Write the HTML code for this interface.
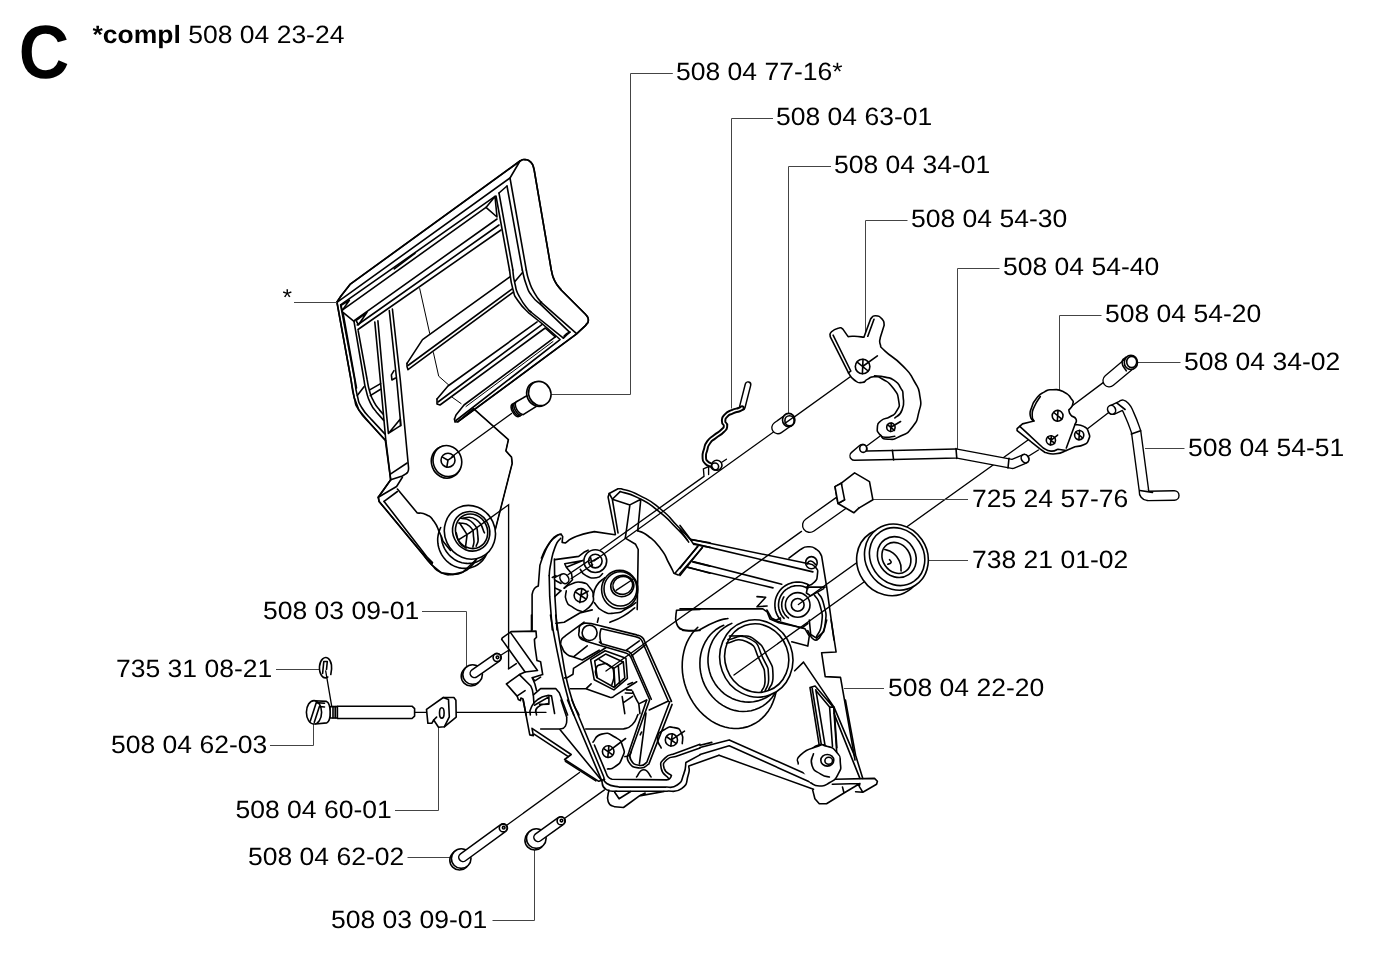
<!DOCTYPE html>
<html><head><meta charset="utf-8">
<style>
html,body{margin:0;padding:0;background:#fff;}
body{width:1400px;height:964px;overflow:hidden;font-family:"Liberation Sans",sans-serif;}
svg{display:block;position:absolute;left:0;top:0;}
text{font-family:"Liberation Sans",sans-serif;fill:#000;text-rendering:geometricPrecision;}
.t{font-size:25px;}
.ld{fill:none;stroke:#444;stroke-width:1;}
.p{fill:none;stroke:#000;stroke-width:1.6;stroke-linejoin:round;stroke-linecap:round;}
.pf{fill:#fff;stroke:#000;stroke-width:1.6;stroke-linejoin:round;stroke-linecap:round;}
.ax{fill:none;stroke:#000;stroke-width:1.35;stroke-linecap:round;}
.th{fill:none;stroke:#000;stroke-width:1;stroke-linejoin:round;stroke-linecap:round;}
</style></head><body>
<svg width="1400" height="964" viewBox="0 0 1400 964">
<rect width="1400" height="964" fill="#fff"/>
<g opacity="0.999"><text transform="translate(18.7 78.3) scale(0.927 1)" style="font-size:75.5px;font-weight:bold">C</text>
<text transform="translate(92.5 42.5) scale(1.06 1)" class="t"><tspan style="font-weight:bold">*compl</tspan> 508 04 23-24</text></g>
<g class="t" opacity="0.999">
<text transform="translate(676 80.1) scale(1.06 1)">508 04 77-16*</text>
<text transform="translate(776 125.1) scale(1.06 1)">508 04 63-01</text>
<text transform="translate(834 173.1) scale(1.06 1)">508 04 34-01</text>
<text transform="translate(911 227.1) scale(1.06 1)">508 04 54-30</text>
<text transform="translate(1003 274.6) scale(1.06 1)">508 04 54-40</text>
<text transform="translate(1105 322.1) scale(1.06 1)">508 04 54-20</text>
<text transform="translate(1184 369.6) scale(1.06 1)">508 04 34-02</text>
<text transform="translate(1188 455.6) scale(1.06 1)">508 04 54-51</text>
<text transform="translate(972 506.6) scale(1.06 1)">725 24 57-76</text>
<text transform="translate(972 567.6) scale(1.06 1)">738 21 01-02</text>
<text transform="translate(888 695.6) scale(1.06 1)">508 04 22-20</text>
<text transform="translate(263 619.1) scale(1.06 1)">508 03 09-01</text>
<text transform="translate(116 676.6) scale(1.06 1)">735 31 08-21</text>
<text transform="translate(111 753.1) scale(1.06 1)">508 04 62-03</text>
<text transform="translate(235.5 817.6) scale(1.06 1)">508 04 60-01</text>
<text transform="translate(248 865.1) scale(1.06 1)">508 04 62-02</text>
<text transform="translate(331 928.1) scale(1.06 1)">508 03 09-01</text>
<text transform="translate(282.5 305.1) scale(1.06 1)" style="font-size:23px">*</text>
</g>
<g id="cover"><path class="pf" d="M337 302L341 296L350 284.4L520 161C521.7 160.5 521.3 159.1 525 159.6C528.7 160.1 528 159.3 531 162.4C534 165.5 533 166.8 534 169L551.3 270C552.4 273.6 551.3 274.1 554.7 280.8C558.1 287.5 559.2 287.1 561.4 290.2L585.7 314.5C586.6 316.3 588.4 316.3 588.4 319.9C588.4 323.5 586.6 323.5 585.7 325.3L576.3 334.1L458 421.7L473.5 408.6L508.4 439.7L505.9 450.9L511.5 457.1L512.2 463.4L495.3 529.6L476.2 559.5L463 572L453 574.4L441.4 572.8L431.4 564.5L379.1 501.4L378.3 497.3L390.7 479.8L385.3 440.2L369.2 422.5L358.9 410.1L354.2 397.6Z" stroke="none"/>
<path class="p" d="M337 302L341 296L350 284.4L520 161C521.7 160.5 521.3 159.1 525 159.6C528.7 160.1 528 159.3 531 162.4C534 165.5 533 166.8 534 169L551.3 270C552.4 273.6 551.3 274.1 554.7 280.8C558.1 287.5 559.2 287.1 561.4 290.2L585.7 314.5C586.6 316.3 588.4 316.3 588.4 319.9C588.4 323.5 586.6 323.5 585.7 325.3L576.3 334.1L458 421.7"/>
<path class="p" d="M338 301.6L510 178L520 161"/>
<path class="p" d="M340.9 304.7L495 196.4"/>
<path class="p" d="M341.9 310.4L486 207.4"/>
<path class="p" d="M486 207.4L495 196.4L497 217Z"/>
<path class="p" d="M341.1 305.4L349.4 300.2L342.1 310.6Z"/>
<path class="p" d="M394.3 268.9L415 253.3" stroke-width="2.6"/>
<path class="p" d="M354.5 320.3L497 219"/>
<path class="p" d="M357.3 325L499 225"/>
<path class="p" d="M358 329.5L501 230"/>
<path class="p" d="M356 320.5L367 312.3L358.5 324.8Z"/>
<path class="p" d="M510 178L526.3 270"/>
<path class="p" d="M507 186L522.3 270"/>
<path class="p" d="M499 193L512.9 270"/>
<path class="p" d="M496 196L509.5 270"/>
<path class="p" d="M499 193L507 186"/>
<path class="p" d="M526.3 270C527.2 273.6 526.3 273.1 529 280.8C531.7 288.4 530.4 285.7 534.4 292.9C538.5 300.1 538.9 299.2 541.2 302.4L576.3 333.4"/>
<path class="p" d="M522.3 270C523.6 274.9 523.2 276.3 526.3 284.8C529.5 293.4 527.2 289.3 531.7 295.6C536.2 301.9 537.1 301 539.8 303.7L569.5 332.1L563.4 338.1"/>
<path class="p" d="M512.8 270C513.5 274.5 512.6 274.5 514.9 283.5C517.1 292.5 514.9 288 519.6 297C524.3 306 525.9 306 529 310.5L563.4 338.1"/>
<path class="p" d="M509.5 270C510.6 276.3 509.9 278.5 512.8 288.9C515.8 299.2 512.8 292.9 518.2 301C523.6 309.1 525.4 309.1 529 313.2L542.5 324L560.1 339.5"/>
<path class="p" d="M514.9 281.5L522.3 272.7M539.8 303.5L541.5 302.1M529.4 310.7L531.2 312.1M564.1 336.1L570.2 332.1L566.5 333.7Z"/>
<path class="p" d="M407 363.4L422.5 339.6L510.2 276.7"/>
<path class="p" d="M408 365.5L512.2 288.9"/>
<path class="p" d="M407 363.4L407 366.6L408 369.7L512.9 292.3"/>
<path class="p" d="M437 399L448 386L537.1 321.9"/>
<path class="p" d="M438 402L541.9 324.6"/>
<path class="p" d="M437 399L437 404L440 405L545.2 328L555.3 336.8"/>
<path class="p" d="M454.5 419L456 415L464 405L555.3 336.8"/>
<path class="th" d="M466 406.5L553 341.5"/>
<path class="p" d="M456 420.5L559.4 340.2"/>
<path class="p" d="M454.5 419L455 422L458 421.7"/>
<path class="th" d="M419.7 288.6L429.7 333.4M433.4 352.6L438.7 376.2L448.6 384.9M452.4 397.4L461.1 403.6"/>
<path class="th" d="M473.5 408.6L508.4 439.7L505.9 450.9L511.5 457.1L512.2 463.4L495.3 529.6"/>
<path class="p" d="M336.9 302.3L351.1 380C352.1 385.9 351.6 387.6 354.2 397.6C356.8 407.6 353.9 401.8 358.9 410.1C363.9 418.4 365.8 418.4 369.2 422.5L385.3 440.2"/>
<path class="p" d="M340.6 304.9L354.7 380C355.6 385.2 354.9 386.3 357.3 395.6C359.7 404.9 357.3 400.1 362 408C366.7 415.9 368.2 415.6 371.3 419.4L384.8 433.9"/>
<path class="p" d="M343.1 313.1L356.5 388"/>
<path class="p" d="M342.1 311.6L354 321.4"/>
<path class="p" d="M354 321.4L364 380C364.7 383.5 364 382.8 366.1 390.4C368.2 398 366.8 395.5 370.3 402.8C373.8 410.1 374.4 409.1 376.5 412.2L383.7 420.4"/>
<path class="p" d="M358.2 330.8L367.2 380C368 383.8 367.5 384.1 369.7 391.4C371.9 398.7 370.6 395.6 373.9 401.8C377.2 408 377.7 407.3 379.6 410.1L383.2 414.2"/>
<path class="p" d="M357.3 395.6L364 386.7M369.7 389.9L380.6 383.6M370.3 395.6L380.6 389.3"/>
<path class="p" d="M374.8 322L380.3 380L385.8 440.2L390.7 479.8"/>
<path class="p" d="M377.9 320.9L383.2 380L388.4 433.4L400.3 418.9L400.5 425.6L388.4 433.4"/>
<path class="p" d="M389.3 310.6L396.7 380L400.9 425.6"/>
<path class="p" d="M392.4 309L400.3 380L408.6 468.2C408.4 469.3 408.7 469.8 408 471.5C407.3 473.2 407.1 472.7 406.6 473.3"/>
<path class="p" d="M394 370.7L391.4 374.9L391.9 380L395.5 378"/>
<path class="p" d="M390 474.4L407.1 463"/>
<path class="p" d="M390.7 479.8L378.3 497.3L379.1 501.4L423.1 554.5C425.9 557.8 425.3 558.4 431.4 564.5C437.5 570.6 434.2 569.5 441.4 572.8C448.6 576.1 445.8 574.7 453 574.4C460.2 574.1 456.9 574.8 463 572C469.1 569.2 466.8 570.3 471.2 566.1C475.6 561.9 474.5 561.7 476.2 559.5"/>
<path class="p" d="M390.7 479.8L402.4 476L406.6 473.3"/>
<path class="p" d="M378.3 497.3L396.6 486.5M384.1 501.4L397.4 491.5M402.4 477.3L396.6 486.5"/>
<path class="p" d="M397.4 489L417.3 513C420.3 513.6 420.9 511.9 426.4 514.7C431.9 517.5 429.5 515.2 433.9 521.3C438.3 527.4 436.7 526.3 439.7 532.9C442.7 539.5 441.9 538.4 443 541.2L450.5 550.4"/>
<path class="p" d="M384.1 501.4L432.2 563.7M423.1 553L432.5 562.5"/>
<path class="p" d="M488.6 547L488.2 549.3L487.6 551.5L486.8 553.6L485.8 555.7L484.7 557.6L483.4 559.4L481.9 561.1L480.3 562.6L478.6 564L476.7 565.2L474.8 566.2L472.7 567.1L470.6 567.7L468.5 568.2L466.3 568.4L464 568.4L461.8 568.3L459.6 567.9L457.4 567.3L455.2 566.6L453.2 565.6L451.1 564.5L449.2 563.1L447.4 561.7L445.7 560L444.2 558.3L442.8 556.4L441.5 554.3L440.4 552.2L439.5 550L438.8 547.8L438.2 545.5L437.9 543.2L437.7 540.8L437.7 538.5L438 536.2L438.4 533.9L439 531.7L439.8 529.5L440.7 527.5"/>
<path class="p" d="M485 556.2L483.9 557.3L482.8 558.2L481.7 559.1L480.4 560L479.2 560.7L477.9 561.3L476.5 561.9L475.1 562.4L473.7 562.8L472.3 563.1L470.8 563.3L469.3 563.4L467.9 563.5L466.4 563.4L464.9 563.3L463.4 563L461.9 562.7L460.5 562.3L459 561.7L457.6 561.2L456.3 560.5L454.9 559.7L453.6 558.9L452.4 557.9L451.2 557L450 555.9L448.9 554.8L447.9 553.6L446.9 552.3L446 551L445.2 549.7L444.4 548.3L443.8 546.9L443.2 545.4L442.7 543.9L442.2 542.4L441.9 540.8L441.6 539.3L441.4 537.7L441.3 536.2"/>
<ellipse class="pf" cx="469.9" cy="532.3" rx="25.2" ry="27.2" transform="rotate(-25 469.9 532.3)"/>
<ellipse class="pf" cx="471.2" cy="531.3" rx="18.3" ry="20.1" transform="rotate(-25 471.2 531.3)"/>
<ellipse class="pf" cx="471.6" cy="531.3" rx="15.8" ry="17.6" transform="rotate(-25 471.6 531.3)"/>
<path class="p" d="M456.3 532.9C457.4 536.3 456.3 537.9 459.6 542.9C462.9 547.9 464.1 546.2 466.3 547.9M460.5 518C464.6 519.7 467.1 516.9 472.9 523C478.7 529.1 476.8 528.5 477.9 536.3C479 544 476.8 542.9 476.2 546.2M458.8 523C462.4 524.1 464.6 521.3 469.6 526.3C474.6 531.3 472.6 531 473.7 537.9C474.8 544.8 473.2 544 472.9 547.1M462.9 518C467.4 518.6 469 514.7 476.2 519.7C483.4 524.6 481.8 528.5 484.5 532.9" stroke-width="1.2"/>
<path class="p" d="M458.8 539.6L469.6 532.9M459.6 523L467.1 534.6L465.4 547.9" stroke-width="1.1"/>
<ellipse class="pf" cx="446.2" cy="462.1" rx="14.7" ry="16.2" transform="rotate(-20 446.2 462.1)"/>
<ellipse class="pf" cx="447.4" cy="461.1" rx="14.2" ry="15.7" transform="rotate(-20 447.4 461.1)"/>
<ellipse class="pf" cx="448" cy="460.2" rx="7" ry="7"/>
<path class="p" d="M448 460.2L442.4 457.1M448 460.2L446.8 467.1M448 460.2L454.2 455.9" stroke-width="1.1"/></g>
<g id="crank"><path class="p" d="M615.4 534.4L608.1 497.1L609.2 493.5L618 488.8L621.1 488.8C627.3 491.1 626.6 488.8 639.8 495.6C652.9 502.3 647.7 498.7 660.5 509C673.3 519.4 668.1 516.5 678.2 526.7C688.2 536.9 686.5 535.3 690.6 539.6"/>
<path class="p" d="M620.1 491.6C626.3 493.8 626 491.7 638.7 498.1C651.5 504.6 646 501.3 658.5 511.1C670.9 521 666.4 518 676.1 527.7C685.8 537.4 683.7 536 687.5 540.2"/>
<path class="p" d="M612.3 499.2L618 532.9M609.2 493.5L612.3 499.2L620.1 491.6M612.3 499.2L629.9 504.9L640.8 499.2M629.9 504.9L625.3 538.1M640.8 499.2L637.7 530.8"/>
<path class="p" d="M625.3 538.1L635.6 544.3L638.2 549.5L637.2 609.6"/>
<path class="p" d="M637.7 530.8C641.2 532.5 640.5 530.1 648.1 536C655.7 541.9 653.6 539.5 660.5 548.5C667.4 557.4 664.3 554.7 668.8 563C673.3 571.3 672.3 569.9 674 573.3L678.2 574.9"/>
<path class="p" d="M675 573.3L697.9 546.4M679.2 574.6L702.5 547.4"/>
<path class="p" d="M691.1 539.6L710 542.7M693.7 544.3L710 547.4M692.7 561.9L710 566.1M687.5 567.1L710 573.3M690.6 539.6L692.2 542.2L693.7 544.3"/>
<path class="ax" stroke-width="1.4" d="M598 551.8L704 476.3L703.4 468.9L708.6 466.6L708.6 474.5"/>
<path class="p" d="M532.1 630L532.1 594.3C532.8 592.6 532.1 591.9 534.1 589.1C536.2 586.3 536.9 587 538.3 586L539.9 565.3C541.4 561.1 540.9 560.8 544.5 552.8C548.1 544.9 546.8 547.1 550.7 541.4C554.7 535.7 553 538.1 556.4 535.7C559.9 533.3 559.6 534.7 561.1 534.1L562.7 536.7L562.1 542.4L565.3 543C569.1 540.7 567 540 576.7 536.2C586.3 532.4 588.4 533.1 594.3 531.6L615 534.7"/>
<path class="p" d="M541.4 558C543.5 553.9 542.8 552.6 547.6 545.6C552.5 538.5 551.4 540.5 555.9 536.7C560.4 533 559.4 535.2 561.1 534.4" stroke-width="2.6"/>
<path class="p" d="M549.2 575.6C549.7 571.8 548.8 573.6 550.7 564.2C552.6 554.9 551.6 556.3 554.9 547.6C558.2 539 558.7 541.4 560.6 538.3"/>
<path class="p" d="M549.2 575.6L549.7 596.4L552.3 630M554.4 559L554.9 596.4L557 630"/>
<path class="p" d="M554.9 559.6L578.7 556.4L583.9 552.3L588.1 550.2M564.7 563.7L582.9 560.6L566.3 567.3ZM566.3 567.3L571.5 573.6L572.5 579.8L564.2 588.1"/>
<path class="p" d="M580.3 569.4C582.2 571.5 580.6 572.9 586 575.6C591.4 578.4 590.8 578.4 596.4 577.7C601.9 577 600.5 574.9 602.6 573.6"/>
<ellipse class="pf" cx="595.3" cy="561.1" rx="11.4" ry="11.4"/>
<ellipse class="pf" cx="595.3" cy="561.1" rx="6.8" ry="6.8"/>
<path class="p" d="M590.7 557.8L592.2 565.8M590.1 562.4L598.4 557.8" stroke-width="1.2"/>
<path class="ax" d="M589.6 560.1L567.9 574.8M592.7 564.7L571 578.7"/>
<path class="pf" d="M561.1 574.4L555.9 576.9C555.4 577.5 554.4 577.4 554.4 578.7C554.4 580.1 555.4 580.1 555.9 580.8L561.1 583.5M552.3 577.5L555.9 575.6"/>
<ellipse class="pf" cx="564.4" cy="578.7" rx="4.1" ry="5.2" transform="rotate(-35 564.4 578.7)"/>
<path class="p" d="M564.2 588.1C566.6 586.7 565.6 585.8 571.5 583.9C577.4 582 575.6 581 581.9 582.4C588.1 583.8 586.3 583.4 590.1 588.1C593.9 592.7 592.9 590.8 593.3 596.4C593.6 601.9 594.6 599.5 591.2 604.7C587.7 609.9 585.7 609.5 582.9 611.9M566.3 590.7C566.3 593.9 563.9 594.8 566.3 600.5C568.7 606.2 568 604 573.6 607.8C579.1 611.6 579.8 610.5 582.9 611.9"/>
<ellipse class="pf" cx="580.8" cy="595.3" rx="6.7" ry="6.7"/>
<path class="p" d="M575.6 592.2L586 599M581.9 588.6L579.8 602.6M580.8 595.3L588.1 591.2" stroke-width="1.1"/>
<path class="p" d="M554.9 588.1L561.1 590.7L554.9 596.4"/>
<path class="p" d="M593.3 596.4C594.3 592.9 592.6 592.2 596.4 586C600.2 579.8 601.9 580.5 604.7 577.7M594.3 602.6C597.1 605.4 595.7 607.4 602.6 610.9C609.5 614.3 607.1 613.7 615 613C623 612.3 619.5 612.3 626.4 608.8C633.4 605.4 632.7 604.7 635.8 602.6"/>
<ellipse class="pf" cx="619.7" cy="589.6" rx="18.1" ry="19.2" stroke-width="2.8"/>
<ellipse class="pf" cx="620.4" cy="588.9" rx="16.4" ry="17.1" stroke-width="1.5"/>
<ellipse class="pf" cx="622.3" cy="586" rx="11.6" ry="10.6" transform="rotate(-15 622.3 586)" stroke-width="2.4"/>
<ellipse class="pf" cx="622.8" cy="585.4" rx="10" ry="8.9" transform="rotate(-15 622.8 585.4)" stroke-width="1.3"/>
<path class="ax" d="M616.1 590.4L633.7 578.7"/>
<path class="p" d="M609.9 622.3C614.3 620.2 615 620.9 623.3 616.1C631.6 611.2 630.9 610.5 634.7 607.8" stroke-width="2.6"/>
<path class="p" d="M555.9 623.3L564.2 622.3L579.8 613L592.2 609.9M598.4 618.1L597.4 622.3"/>
<path class="p" d="M531.5 615L531.5 631.1"/>
<path class="p" d="M501.7 639.4L502.3 637.8L511.1 631.6L536 631.1L536.5 637.3L534.4 639.4L534.9 646.1L537 660.6L540.6 661.7L542.7 674.6L532.3 677.7L534.9 680.9L540.6 677.2"/>
<path class="p" d="M510.6 632.6L537.5 670.5L525.1 672L519.4 674.6L506.4 684L517.3 696.4L518.3 699.5L520.4 700.6L520.9 698L523 699L526.1 715"/>
<path class="p" d="M502.1 639.9L525.1 672M508.5 668.9L516.3 663.7"/>
<path class="p" d="M519.4 674.6L530.8 686L532.3 689.7L533.4 695.9L533.9 703.2M517.3 695.9L525.1 690.7M532.3 677.7L534.9 684L536.5 690.2"/>
<path class="p" d="M533.4 694.9L540.6 688.6L555.7 688.6L559.3 692.8L567.6 715"/>
<path class="p" d="M530.3 715C530.6 712.4 528.5 712.6 531.3 707.3C534.1 702 533 703 538.6 699C544.1 695 544.8 696.6 547.9 695.4L551.5 695.9L554.6 713.5"/>
<path class="p" d="M534.4 705.2L548.9 696.9L548.9 704.2L539.6 704.4M536.5 715C536.8 712.4 533.4 711.2 537.5 707.3C541.7 703.4 545.1 704.5 548.9 703.2"/>
<path class="p" d="M550.5 615C552.7 627.1 551.9 625.4 557.2 651.3C562.6 677.2 561 671.6 566.6 692.8C572.1 714 571.4 707.6 573.8 715"/>
<path class="p" d="M555.7 615C557.6 627.1 556.7 625.7 561.4 651.3C566 676.9 563.8 670.5 569.7 691.7C575.6 713 575.9 707.2 579 715"/>
<path class="p" d="M579.2 630.7C579.5 629 578.1 628.1 580.2 625.6C582.3 623 583.7 623.8 585.4 623L591.1 623.5L636.7 634.9C638.5 635.6 639.2 634.8 641.9 637.2C644.7 639.6 644 640.5 645 642.1L671.5 701.3"/>
<path class="p" d="M601.5 628.7L635.7 636.8C637.3 637.4 637.9 636.7 640.4 638.8C642.8 641 642.1 641.7 643 643.2L668.4 701.3"/>
<path class="p" d="M599.4 642.1L601.5 643.7L625.3 650.4C627.1 651.3 627.8 650.3 630.5 653C633.3 655.8 632.6 656.8 633.6 658.7L651.3 699.2"/>
<path class="p" d="M580.7 637.2L587 641.6L599.4 645.3L624.3 652.5C625.9 653.3 626.5 652.7 629 654.8C631.4 656.9 630.7 657.4 631.6 658.7L649.4 699.2"/>
<path class="p" d="M601 629C600.6 631.3 599.8 631.1 599.9 635.9C600 640.7 600.8 640.9 601.3 643.4M626.4 650.2L639.3 640.9M631.6 655.8L645.2 645.1"/>
<ellipse class="pf" cx="589.6" cy="632.8" rx="7.5" ry="7.7"/>
<path class="p" d="M579.2 630.7C579.4 633 577.3 633.9 579.7 637.5C582.1 641 584.2 640.1 586.4 641.4"/>
<path class="p" d="M584.1 622.2L565.2 635.9C563.8 637.7 562 637.1 561 641.1C560.1 645.1 560.4 643.5 562.3 647.9C564.2 652.2 563 651.1 566.7 654.1C570.5 657.1 571.2 655.9 573.5 656.9L587.2 645.8M573.5 656.9L582.3 660L599.2 650.2"/>
<path class="p" d="M573.5 668.3L606.1 647.5M573.5 668.3L573 674.3L567.3 677.6M564.7 677.9L567.3 677.6"/>
<path class="p" d="M590.6 659.6L605.1 650.7L625.9 658.2L627.4 678.4L613.9 689.9L594.2 679.7Z"/>
<path class="p" d="M594.7 661L605.6 654.1L623.3 661.9L624.8 677.9L613.9 687.3L597.3 677.9Z"/>
<path class="p" d="M599.2 659.6L613.9 668.3L623.3 661.9M613.9 668.3L615 686.7M618.3 665.5L619.6 683.1"/>
<path class="p" d="M596.8 677.4C596.5 674.8 594.2 673.9 595.8 669.6C597.3 665.3 596.8 665.7 601.5 664.4C606.1 663.2 605.6 662.7 609.8 666C613.9 669.3 613.2 668.1 613.9 674.3C614.6 680.5 612.5 681.2 611.9 684.7"/>
<path class="p" d="M570.4 688.8L585.9 688.8L591.1 683.8M585.9 688.8L609.8 697.3C610.6 697.3 610.8 697.8 612.4 697.3C613.9 696.8 613.8 696.3 614.4 695.9L636.7 681.8"/>
<path class="p" d="M627.9 684.5L632.6 682.6" stroke-width="2.4"/>
<path class="p" d="M622.2 696.6L624.8 713.7M626.4 689.9L631.6 690.1M625.3 693L632.1 693.2M623.8 702.3L632.6 696.3M632.6 691.4C633.6 693.7 633.6 694 635.7 698.1C637.8 702.3 637.8 701.9 638.8 703.9L646.6 700M638.8 703.9L639.9 713.7"/>
<path class="p" d="M649.2 710L667.9 701.3"/>
<path class="p" d="M676.5 610.2L700 609.4M676.5 610.2C676.5 614.5 674.3 616.5 676.5 623.2C678.6 630 680.8 628.1 683 630.5L700 630.5"/>
<path class="p" d="M680 525.4L691.6 540.7M680 529.8L688.7 542.1"/>
<path class="p" d="M691.6 539.5L806.4 563.2C809.3 564.4 811.4 562.7 815.1 566.8C818.7 570.9 817.7 570.2 817.3 575.5C816.8 580.9 816.8 579.4 813.6 582.8C810.5 586.2 809.8 584.7 807.8 585.7"/>
<path class="p" d="M693.8 543.6L812.9 571.9"/>
<path class="p" d="M693.8 561.7L781.7 584.2M688 567.5L773 587.9M701.8 547.9L680 575.5M697.4 546.5L680 568.3"/>
<path class="p" d="M788.9 558.1L800.6 549.4C803 548.5 802.5 546.8 807.8 546.8C813.1 546.8 811.9 546.3 816.5 549.4C821.1 552.4 819.9 553.7 821.6 555.9L826.7 587.1L834 640"/>
<ellipse class="p" cx="811.4" cy="562.7" rx="5.8" ry="6.1"/>
<path class="p" d="M807.1 563.9C808.3 562.9 807.8 560.8 810.7 561C813.6 561.2 814.1 563.4 815.8 564.6"/>
<path class="p" d="M808.4 584.7L807 584L805.5 583.4L804 582.9L802.5 582.5L800.9 582.2L799.3 582.1L797.7 582L796.1 582.1L794.5 582.2L793 582.5L791.4 582.9L789.9 583.4L788.4 584L787 584.7L785.6 585.5L784.3 586.4L783 587.3L781.8 588.4L780.7 589.6L779.7 590.8L778.8 592.1L777.9 593.4L777.2 594.8L776.5 596.3L776 597.8L775.5 599.3L775.2 600.9L775 602.5L774.9 604.1L774.9 605.7L775 607.2L775.2 608.8L775.5 610.4L776 611.9L776.5 613.4L777.2 614.9L777.9 616.3L778.8 617.6L779.7 618.9L780.7 620.2" stroke-width="2"/>
<path class="p" d="M807.9 588.6L806.7 587.9L805.4 587.3L804.1 586.8L802.8 586.3L801.4 586L800 585.8L798.6 585.7L797.2 585.7L795.8 585.7L794.5 585.9L793.1 586.2L791.7 586.6L790.4 587.1L789.2 587.7L787.9 588.3L786.8 589.1L785.6 589.9L784.6 590.8L783.6 591.8L782.7 592.9L781.9 594L781.1 595.2L780.5 596.4L779.9 597.7L779.4 599L779 600.4L778.8 601.8L778.6 603.2L778.5 604.5L778.5 605.9L778.7 607.3L778.9 608.7L779.2 610.1L779.7 611.4L780.2 612.7L780.8 614L781.5 615.2L782.3 616.3L783.2 617.4L784.1 618.4" stroke-width="2"/>
<path class="p" d="M783.9 596.9L783.6 597.4L783.3 597.9L783.1 598.4L782.8 599L782.6 599.5L782.4 600.1L782.3 600.7L782.1 601.3L782 601.8L781.9 602.4L781.8 603L781.8 603.6L781.7 604.2L781.7 604.8L781.7 605.4L781.8 606L781.8 606.6L781.9 607.2L782 607.7L782.1 608.3L782.2 608.9L782.4 609.5L782.6 610L782.8 610.6L783 611.1L783.2 611.7L783.5 612.2L783.8 612.7L784.1 613.2L784.4 613.7L784.7 614.2L785.1 614.7L785.5 615.2L785.9 615.6L786.3 616L786.7 616.5L787.1 616.9L787.6 617.2L788.1 617.6L788.5 618"/>
<ellipse class="pf" cx="797.7" cy="604.9" rx="12.3" ry="12.3"/>
<ellipse class="pf" cx="797.7" cy="604.9" rx="6.4" ry="6.4"/>
<path class="p" d="M780.6 618L776 620.3L771.4 618M766.9 610L771.4 618" stroke-width="2"/>
<path class="p" d="M806.4 587.1L825.2 587.1M807.8 585.7L806.4 593L810.7 595.9L823.8 588.6" stroke-width="1.8"/>
<path class="p" d="M680 608.9L762.8 608.9L767.1 611.8L770.1 619.1L778.8 622.7L802 627.8L807.8 623.5" stroke-width="2.2"/>
<path class="p" d="M757 596.6L765.7 597.3L757 606.8L767.1 606" stroke-width="1.6"/>
<path class="p" d="M818 593C819.9 596.8 821.4 594.4 823.8 604.6C826.2 614.7 826.7 612.3 825.2 623.5C823.8 634.6 821.4 633.1 819.4 638M814.4 595.1C816.3 598.8 817.7 596.6 820.2 606C822.6 615.5 822.8 613.3 821.6 623.5C820.4 633.6 818.2 632.2 816.5 636.5M819.4 638C817.5 638.5 817.5 641.9 813.6 639.4C809.8 637 809.8 633.6 807.8 630.7"/>
<path class="p" d="M776.7 687.8L775.9 692.9L774.6 697.8L772.9 702.4L770.9 706.8L768.4 710.9L765.6 714.6L762.4 717.9L759 720.8L755.2 723.3L751.3 725.3L747.1 726.9L742.8 727.9L738.4 728.5L733.9 728.5L729.3 728L724.8 727L720.2 725.5L715.8 723.5L711.5 721.1L707.4 718.2L703.5 714.9L699.8 711.3L696.4 707.2L693.3 702.9L690.5 698.2L688.1 693.4L686.1 688.3L684.5 683.2L683.3 677.9L682.5 672.6L682.2 667.2L682.3 662L682.8 656.8L683.8 651.8L685.1 647L686.9 642.4L689.1 638.1L691.7 634.1L694.6 630.5L697.8 627.3"/>
<path class="p" d="M780.4 677.9L779.5 682.3L778.2 686.5L776.4 690.5L774.3 694.3L771.9 697.7L769.1 700.9L766 703.7L762.6 706.1L759 708L755.2 709.6L751.2 710.7L747.1 711.3L743 711.5L738.8 711.2L734.6 710.4L730.5 709.2L726.6 707.5L722.7 705.4L719 702.9L715.6 700L712.4 696.8L709.6 693.3L707 689.4L704.8 685.4L703 681.1L701.6 676.7L700.6 672.2L700 667.6L699.9 663L700.1 658.5L700.8 654.1L701.9 649.8L703.5 645.6L705.4 641.7L707.7 638.1L710.3 634.8L713.3 631.8L716.5 629.2L720 627L723.7 625.3"/>
<path class="p" d="M785.8 656.4L786.2 660.9L786.2 665.5L785.6 669.9L784.6 674.3L783.1 678.6L781.2 682.6L778.9 686.3L776.1 689.7L773 692.8L769.5 695.5L765.8 697.8L761.9 699.6L757.7 700.9L753.5 701.8L749.1 702.1L744.7 701.9L740.4 701.3L736.1 700.1L732 698.4L728.1 696.3L724.4 693.8L721 690.8L717.9 687.5L715.2 683.9L712.8 679.9L710.9 675.8L709.5 671.4L708.5 667L708 662.4L708 657.9L708.5 653.4L709.4 649L710.8 644.8L712.7 640.7L715 636.9L717.7 633.5L720.8 630.3L724.2 627.6L727.9 625.3L731.8 623.4"/>
<path class="p" d="M680 628.7C682.9 629.4 682.4 630.4 688.7 630.9C695 631.4 695.5 630.4 698.9 630.2M698.9 630.2C704.7 627.3 706.6 625.3 716.3 621.5C726 617.6 724.1 619.5 727.9 618.5"/>
<ellipse class="pf" cx="756.3" cy="658.5" rx="36.3" ry="38.9" transform="rotate(-20 756.3 658.5)"/>
<ellipse class="pf" cx="756.7" cy="658.1" rx="31.7" ry="34.6" transform="rotate(-20 756.7 658.1)"/>
<path class="p" d="M729.4 636L742.5 635.7C746.8 637.2 747.3 633.5 755.5 640.3C763.8 647.2 761.3 644.7 767.1 656.3C773 667.9 772.5 664.1 773 675.2C773.4 686.3 770.1 684.9 768.6 689.7"/>
<path class="p" d="M727.9 639.6C735.2 639.4 738.1 632.8 749.7 638.9C761.3 644.9 756.5 645.2 762.8 657.8C769.1 670.4 767.9 665.5 768.6 676.6C769.3 687.8 766.2 686.3 765 691.2"/>
<path class="p" d="M726.5 643.2C733.3 642.8 735.9 636.5 746.8 641.8C757.7 647.1 753.1 647.1 759.2 659.2C765.2 671.3 764.2 667.2 765 678.1C765.7 689 762.5 687.3 761.3 691.9"/>
<path class="p" d="M831.1 620L836.1 652L821.6 652.7L825.2 676.6L840.5 677.4L855 760"/>
<path class="p" d="M803.5 662.1L794.7 670.8M803.5 662.1L834 707.1L854.3 755.1M810 687.5L815.1 686.1L834 707.9M810 687.5L819.4 746.4M815.8 689.7L825.2 746.4M812.2 688.3L821.6 746.4"/>
<path class="p" d="M829.6 707.1L834 707.1L836.9 747.8M829.6 707.1L832.5 746.4M816.5 691.2L829.6 707.1"/>
<path class="p" d="M804.9 628.7L809.3 636L807.8 646.1L791.8 641.8M809.3 620L810.7 634.5L816.5 638.2L823.8 631.6L826.7 620M773 620L804.9 628.7"/>
<path class="p" d="M799.1 760L815.1 746.4C817 745.8 817.5 744.9 820.9 744.6C824.3 744.4 823.8 745.3 825.2 745.6L834 750.7L838.3 760"/>
<path class="p" d="M523.2 700L529.8 734.9L533.4 735.6L532 728.3L571.2 754.5L564.6 759.5L598.8 781.3L604.6 779.2"/>
<path class="p" d="M534.1 734.1L568.3 756.6M565.4 761.3L595.9 780.9"/>
<path class="p" d="M594.4 745L606 772.6C606.8 774.1 606.3 774.8 608.2 777C610.1 779.2 610.6 778.4 611.8 779.2L667 779.9C668 779.4 668.5 779.9 669.9 778.4C671.4 777 670.9 776.5 671.4 775.5"/>
<path class="p" d="M571.9 700L603.8 777C604.8 779.2 601.7 780.1 606.8 783.5C611.8 786.9 615 785.9 619.1 787.1L665.6 787.1C669.5 786.4 671.1 789.3 677.2 785C683.2 780.6 680.8 781.6 683.7 774.1C686.6 766.6 685.2 766.3 685.9 762.5L700 754.9"/>
<path class="p" d="M567.5 700L601.7 780.6C603.1 783.5 600.7 785.8 606 789.3C611.4 792.9 613.8 790.6 617.6 791.2L667 791.2C671.9 790.3 674.5 793.8 681.6 788.6C688.6 783.4 685.7 783 688.1 775.5C690.5 768 688.6 769.2 688.8 766.1L719 755.2"/>
<path class="p" d="M559.5 729L601.7 780.6M540.7 729L559.5 729C561.5 728.1 562.9 730 565.4 726.1C567.8 722.3 566.3 720.3 566.8 717.4L561 700"/>
<path class="p" d="M593 742.1C595.9 739.5 594.4 735.8 601.7 734.1C608.9 732.4 607.7 732.9 614.7 737C621.8 741.2 620.3 739.5 622.7 746.5C625.2 753.5 624.7 751.3 622 758.1C619.3 764.9 619.6 763.2 614.7 766.8C609.9 770.4 609.9 768.3 607.5 769"/>
<ellipse class="pf" cx="608.2" cy="751.6" rx="5.8" ry="5.8"/>
<path class="p" d="M603.8 748.7L612.6 754.9M608.9 745.8L607.8 757.4M608.2 751.6L625.6 738.5" stroke-width="1.1"/>
<ellipse class="pf" cx="671.4" cy="739.9" rx="6.1" ry="6.1"/>
<path class="p" d="M667 737L676 743.3M672.3 733.8L670.8 746.2M671.4 739.9L684.5 731.2" stroke-width="1.1"/>
<path class="p" d="M661.2 747.9C660 744.5 656.6 743.8 657.6 737.8C658.6 731.7 658.6 733.2 664.1 729.8C669.7 726.4 668.5 726.4 674.3 727.6C680.1 728.8 678.9 728.1 681.6 733.4C684.2 738.7 682 740.2 682.3 743.6"/>
<path class="p" d="M649.6 700L631.4 750.8C631.2 753.7 628.1 754.7 630.7 759.5C633.4 764.4 634.1 764.4 639.4 765.4C644.8 766.3 644.3 763.4 646.7 762.5L669.9 701.5"/>
<path class="p" d="M646.7 700L629.3 750.8C629 754.5 625.2 756 628.5 761.7C631.9 767.4 632.7 767.2 639.4 768C646.2 768.7 645.7 765.3 648.9 763.9L672.1 704.4"/>
<path class="p" d="M646 713.1L639.4 763.9M641.6 732L640.2 734.9"/>
<path class="p" d="M585.7 729L623.5 729C626.4 727.6 627.3 729.5 632.2 724.7C637 719.8 636 717.9 638 714.5"/>
<path class="p" d="M608.9 790.1C608.7 793.9 606.3 796.1 608.2 801.7C610.1 807.2 612.6 805.1 614.7 806.8L623.5 807.5L639.4 795.9L664.1 791.5M614.7 792.2L619.1 798.8L630.7 791.5M639.4 795.9L645.2 793"/>
<path class="p" d="M671.4 775.5C669 773.1 665.6 773.6 664.1 768.3C662.7 762.9 663.2 763.4 667 759.5C670.9 755.7 672.8 757.6 675.7 756.6L700 747.9M668.5 778.4C666.1 775 662.4 775 661.2 768.3C660 761.5 660.5 762.9 664.9 758.1C669.2 753.3 671.1 755.2 674.3 753.7L700 744.3"/>
<path class="p" d="M636.5 777C638.9 774.6 638.9 769.7 643.8 769.7C648.6 769.7 648.6 774.6 651.1 777"/>
<path class="p" d="M624.9 756.6C626.4 756.2 627.1 757.1 629.3 755.2C631.4 753.3 630.7 752.3 631.4 750.8"/>
<path class="p" d="M700 747.5L729.2 739.9L817.8 779.2L825.1 781.3M700 754.5L729.2 745.8L814.9 784.2M719 755.2L813.5 789.3M700 745.3L711.8 742.4"/>
<path class="pf" d="M798.2 763.9C798.9 761 794.3 760.9 800.4 755.2C806.4 749.5 807.6 749.8 816.4 746.8C825.1 743.8 819.8 744.3 826.5 746.2C833.3 748 832.1 746.9 836.7 752.3C841.3 757.7 839.8 755.2 840.3 762.5C840.8 769.7 841.8 767.3 838.1 774.1C834.5 780.9 835.7 778.8 829.4 782.8C823.1 786.8 825.6 786 819.3 786C813 786 813.5 783.9 810.6 782.8"/>
<path class="p" d="M813.5 753.7C813 757.6 809.6 758.6 812 765.4C814.4 772.1 814.9 770.2 820.7 774.1C826.5 777.9 826.5 776 829.4 777"/>
<ellipse class="pf" cx="827.3" cy="760.3" rx="6.5" ry="5.8"/>
<ellipse class="pf" cx="828.7" cy="760.7" rx="3.8" ry="3.5"/>
<path class="p" d="M835.2 779.2L874.5 778.4L877.4 781.3L876.6 784.2L862.8 792.2L855.6 791.8M832.3 784.2L859.9 783.5L844 793L826.5 803.8L819.3 803.8L814.9 798.8L812.7 790.1M844 793L842.5 787.1M859.9 783.5L859.2 786.4L862.8 792.2"/>
<path class="p" d="M845.4 700L855.6 755.2L862.8 778.4M833.8 713.1L859.9 778.4M833.8 708.7L836.7 752.3"/></g>
<g id="axes"><path class="ax" d="M415 712.3H546"/><path class="ax" d="M325.7 671L331.6 705.5"/><path class="ax" d="M498 657L509 650"/><path class="ax" d="M505 826.5L579.5 772.5"/><path class="ax" d="M563 819.5L604.5 789.9"/><path class="ax" d="M511.5 413.5L452 456.5"/><path class="ax" d="M594 561L868 364"/><path class="ax" d="M798.4 604.5L1028 440"/><path class="ax" d="M1026.8 457.3L1038.4 450"/><path class="ax" d="M1060 415L1104.5 381.6"/><path class="ax" d="M1082 433L1110 411.5"/><path class="ax" d="M879.5 436.5L866 446.5"/><path class="ax" d="M893 425.8L901 421.2"/><path class="ax" d="M801.5 531.4L606 671"/><path class="ax" d="M864 582L734 675"/><path class="ax" d="M469.6 532.9L508.6 504.7V668"/></g>
<g class="ld">
<path d="M672.8 73.5H630.5V394.5H551"/>
<path d="M773 118.5H731.5V408.5"/>
<path d="M831 166.5H788.5V413"/>
<path d="M907.5 220.5H865.5V336"/>
<path d="M999.5 268.5H957.5V449"/>
<path d="M1101.5 315.5H1059.5V390"/>
<path d="M1180.5 362.5H1138"/>
<path d="M1184.5 448.5H1145"/>
<path d="M968 499.5H873"/>
<path d="M968 560.5H928"/>
<path d="M884 688.5H844"/>
<path d="M422 611.5H466.5V666"/>
<path d="M276 669.5H319"/>
<path d="M270 745.5H313.5V724"/>
<path d="M395 810.5H438.5V727"/>
<path d="M407.5 857.5H451"/>
<path d="M492.5 920.5H534.5V849"/>
<path d="M294 302.5H337"/>
</g>

<g id="clip">
<path class="p" stroke-width="2.6" d="M327.8 677C323 680 319 674 319.5 666.5C320 659.5 324.5 655.8 328.2 658.3C331.8 661 332.4 668 330.8 674.5"/>
<path class="p" stroke-width="1.8" d="M323.8 661.5L322.6 673.5M327.3 661.5L326.5 669.5M323.8 661.5L327.3 661.5"/>
</g>
<g id="s6203">
<path class="pf" d="M337.3 706.2H412L414.6 708.6V716.1L412 718.5H337.3Z"/>
<path class="pf" d="M330 706.6H337.3V718H330Z"/>
<path class="p" stroke-width="1" d="M333 706.6V718M335.2 706.6V718"/>
<path class="pf" d="M314.5 700.7L326.5 701.4C331 703 331.6 720 326.8 722.9L315.5 724"/>
<ellipse class="pf" cx="314" cy="712.3" rx="7.6" ry="11.7"/>
<path class="p" stroke-width="1.2" d="M310.3 721L316.3 702.6L324.5 703.3M314.3 722.3L319.4 706.5L324.5 707"/>
</g>
<g id="nut">
<path class="pf" d="M426.5 709.4L443.3 697.5L453.9 697.5L455.9 700.2L456.2 717.1L444.3 726.8L438.5 727.2L433.7 720L431.8 723.3L427.9 723.3Z"/>
<path class="p" d="M443.3 697.5L448.5 699.4L449.3 716.8L444.3 726.8"/>
<path class="p" d="M433.7 720L436.6 717.1"/>
<ellipse class="p" cx="441.8" cy="712.9" rx="2.3" ry="5.2"/>
</g>
<g><circle class="pf" cx="471" cy="676.2" r="9.8"/><circle class="pf" cx="472.6" cy="674.6" r="9.8"/><path d="M474.4 673.3L497 657.6" fill="none" stroke="#000" stroke-width="10" stroke-linecap="round"/><path d="M474.4 673.3L497 657.6" fill="none" stroke="#fff" stroke-width="7" stroke-linecap="round"/><circle class="pf" cx="497" cy="657.6" r="3.9"/><circle class="p" stroke-width="1" cx="497.5" cy="657.3" r="1.3"/></g>
<g><circle class="pf" cx="459.6" cy="860.2" r="9.8"/><circle class="pf" cx="461.2" cy="858.6" r="9.8"/><path d="M463 857.3L503.2 828" fill="none" stroke="#000" stroke-width="10" stroke-linecap="round"/><path d="M463 857.3L503.2 828" fill="none" stroke="#fff" stroke-width="7" stroke-linecap="round"/><circle class="pf" cx="503.2" cy="828" r="3.9"/><circle class="p" stroke-width="1" cx="503.7" cy="827.7" r="1.3"/></g>
<g><circle class="pf" cx="534.7" cy="840.2" r="9.8"/><circle class="pf" cx="536.3" cy="838.6" r="9.8"/><path d="M538.1 837.3L561 820.9" fill="none" stroke="#000" stroke-width="10" stroke-linecap="round"/><path d="M538.1 837.3L561 820.9" fill="none" stroke="#fff" stroke-width="7" stroke-linecap="round"/><circle class="pf" cx="561" cy="820.9" r="3.9"/><circle class="p" stroke-width="1" cx="561.5" cy="820.6" r="1.3"/></g>
<g id="button">
<ellipse class="pf" cx="515.6" cy="410.3" rx="3.4" ry="7" transform="rotate(-29.4 515.6 410.3)" stroke-width="2.4"/>
<ellipse class="pf" cx="516.9" cy="409.6" rx="3.4" ry="7" transform="rotate(-29.4 516.9 409.6)" stroke-width="2"/>
<ellipse class="pf" cx="518.3" cy="408.8" rx="3.4" ry="7" transform="rotate(-29.4 518.3 408.8)" stroke-width="1.8"/>
<ellipse class="pf" cx="519.8" cy="407.9" rx="3.4" ry="7" transform="rotate(-29.4 519.8 407.9)" stroke-width="1.4"/>
<path d="M516.5 402L532.1 392.6L539.6 405.1L523.1 414.5Z" fill="#fff" stroke="none"/>
<path class="p" d="M516.4 401.7L529.6 394.1M523.2 414.7L536.4 406.3"/>
<ellipse class="pf" cx="538.1" cy="394.1" rx="11.2" ry="12.6" transform="rotate(-25 538.1 394.1)" stroke-width="2.6"/>
<ellipse class="pf" cx="539.8" cy="393.5" rx="11" ry="12.3" transform="rotate(-25 539.8 393.5)"/>
</g>
<g id="spring">
<path d="M748 384.7L742.3 407.1" fill="none" stroke="#000" stroke-width="7" stroke-linecap="round" stroke-linejoin="round"/><path d="M748 384.7L742.3 407.1" fill="none" stroke="#fff" stroke-width="4.1" stroke-linecap="round" stroke-linejoin="round"/>
<path d="M742.1 408C741.1 408.5 742.4 408.4 739.2 409.6C736 410.8 736.7 409.8 732.3 411.7C728 413.7 729 412.3 726.1 415.5C723.2 418.6 723.8 417.5 723.6 421.1C723.4 424.6 725.9 422.7 725.5 426C725.1 429.4 725.9 427.5 722.4 431C718.9 434.5 719.5 432.9 714.9 436.6C710.3 440.4 711.8 437.9 708.7 442.2C705.6 446.6 707 444.7 705.6 449.7C704.1 454.7 704.1 453 704.3 457.2C704.5 461.3 704.1 459.6 706.2 462.2C708.3 464.7 709.1 464 710.5 464.9" fill="none" stroke="#000" stroke-width="5.4" stroke-linecap="round" stroke-linejoin="round"/><path d="M742.1 408C741.1 408.5 742.4 408.4 739.2 409.6C736 410.8 736.7 409.8 732.3 411.7C728 413.7 729 412.3 726.1 415.5C723.2 418.6 723.8 417.5 723.6 421.1C723.4 424.6 725.9 422.7 725.5 426C725.1 429.4 725.9 427.5 722.4 431C718.9 434.5 719.5 432.9 714.9 436.6C710.3 440.4 711.8 437.9 708.7 442.2C705.6 446.6 707 444.7 705.6 449.7C704.1 454.7 704.1 453 704.3 457.2C704.5 461.3 704.1 459.6 706.2 462.2C708.3 464.7 709.1 464 710.5 464.9" fill="none" stroke="#fff" stroke-width="1.5" stroke-linecap="round" stroke-linejoin="round"/>
<ellipse class="pf" cx="716.8" cy="465.3" rx="5.2" ry="5" stroke-width="2.2"/>
<ellipse class="p" cx="714.9" cy="466.5" rx="3.7" ry="3.5" stroke-width="1.6"/>
<path class="ax" d="M721.8 462.2L726.4 459.2"/>
</g>
<g id="sl1">
<path d="M788.3 420.3L777.9 427.7" fill="none" stroke="#000" stroke-width="13.4" stroke-linecap="round" stroke-linejoin="round"/><path d="M788.3 420.3L777.9 427.7" fill="none" stroke="#fff" stroke-width="10.8" stroke-linecap="round" stroke-linejoin="round"/>
<ellipse class="pf" cx="788.7" cy="420" rx="6.2" ry="6.6"/>
<ellipse class="pf" cx="789.5" cy="420.7" rx="4.6" ry="5" stroke-width="1.2"/>
<path class="ax" d="M784.9 423.4L794.5 416.5"/>
</g>
<g id="lever">
<path class="pf" d="M830.2 336.6C830.6 335 828.6 334.7 831.5 331.8C834.4 328.9 835.1 328.9 838.9 328C842.6 327 841.4 328.6 842.7 328.9L848.1 336.6C850.2 336.5 849 336.1 854.3 336.3C859.6 336.5 860.7 336.9 863.9 337.2L870.7 318.7C872.3 317.7 871.6 315.6 875.5 315.8C879.4 316 879.4 316.2 882.3 319.3C885.1 322.4 883.5 323.1 884.2 325.1L880.3 337.6C880.3 339.9 878.7 339.9 880.3 344.4C881.9 348.9 877.8 344 885.1 351.1C892.5 358.2 892.9 355.6 902.5 365.6C912.2 375.5 908.3 370.7 914.1 381C919.9 391.3 918.3 386.1 919.9 396.4C921.5 406.7 921.5 401.6 918.9 411.9C916.3 422.1 918.3 419.3 912.2 427.3C906 435.3 908.6 432 900.6 436C892.5 440 894.8 439.6 888 439.2C881.3 438.9 883.9 439 880.3 435C876.8 431 877.1 432.1 877.4 427.3C877.8 422.5 877.1 424.1 881.3 420.5C885.5 417 884.8 419.9 890 416.7C895.1 413.5 893.8 416.4 896.7 410.9C899.6 405.4 899.9 408 898.6 400.3C897.4 392.6 898 394.7 892.9 387.8C887.7 380.8 889.3 383.1 883.2 379.5C877.1 375.8 879.7 376.9 874.5 376.8C869.4 376.6 872 377.1 867.8 379.1C863.6 381 866.5 382.2 862 382.5C857.5 382.9 858.8 383.3 854.3 380C849.8 376.8 850.4 375.3 848.5 372.9L830.2 336.6"/>
<path class="p" d="M833.1 335.1L850.8 371M848.5 372.9L850.8 371"/>
<path class="p" d="M874.5 375.8C878.1 376.2 878.6 375.6 885.1 377.1C891.7 378.7 889.1 376.9 894.2 380.4C899.4 384 897.6 382.4 900.6 387.8C903.5 393.1 902.6 389 903.1 396.4C903.6 403.8 904.9 402.7 902.1 409.9C899.4 417.1 897.2 415.3 894.8 418"/>
<path class="p" d="M867.8 336.3L874 319.3"/>
<path class="p" d="M880.3 435C881.9 435.8 880.3 436.9 885.1 437.3C890 437.7 891.6 436.5 894.8 436.2"/>
<ellipse class="pf" cx="862.6" cy="366.5" rx="7.3" ry="7.3"/>
<path class="p" d="M857.2 362.1L868.2 371M863 359.4L862.4 373.7M862.6 366.5L877.4 355.9" stroke-width="1.1"/>
<ellipse class="pf" cx="890.9" cy="427.3" rx="4.2" ry="4.2"/>
<path class="p" d="M887.5 424.6L894.4 430.4M891.3 423L890.5 431.5M890.9 427.3L900.6 421.5" stroke-width="1.1"/>
</g>
<g id="rod">
<path d="M862.5 449L854.5 455.8L893 455L956.4 453.5L1012.5 464L1024.5 459" fill="none" stroke="#000" stroke-width="10.4" stroke-linecap="round" stroke-linejoin="round"/><path d="M862.5 449L854.5 455.8L893 455L956.4 453.5L1012.5 464L1024.5 459" fill="none" stroke="#fff" stroke-width="7.6" stroke-linecap="round" stroke-linejoin="round"/>
<path class="p" d="M892.4 450.2L893.6 460M956 448.6L956.8 458.4M1009 458.2L1008 468"/>
<ellipse class="pf" cx="863.2" cy="448.5" rx="3.5" ry="3.9"/>
<ellipse class="pf" cx="1025" cy="458.6" rx="3.6" ry="4.4" transform="rotate(-30 1025 458.6)"/>
</g>
<g id="bracket">
<path class="pf" d="M1017.1 428.7L1022.5 423.9L1033.9 421C1032.7 419.3 1031 420.5 1030.3 415.8C1029.6 411.2 1029.7 412.9 1031.8 407.1C1033.9 401.4 1032.3 403.5 1036.4 398.5C1040.5 393.5 1038.7 395 1044.1 392.1C1049.6 389.2 1046.4 389.9 1052.8 389.8C1059.3 389.7 1057.3 388.8 1063.4 391.7C1069.5 394.6 1068.1 394.3 1071.1 398.5C1074.2 402.6 1073.5 400.4 1072.7 404.3C1071.9 408.1 1070.1 408.1 1068.8 410C1069.5 411.6 1068.4 411.8 1070.8 414.9C1073.1 417.9 1074.6 415.9 1076 419.1C1077.4 422.3 1075.3 422.7 1075 424.5C1077.9 425.1 1079.2 423.9 1083.7 426.4C1088.2 429 1086.9 427.7 1088.5 432.2C1090.1 436.7 1090.1 435.8 1088.5 439.9C1086.9 444.1 1088.2 442.5 1083.7 444.8C1079.2 447 1077.9 446 1075 446.7L1066.3 450.5C1062.8 451.6 1062.8 453.2 1055.7 453.8C1048.6 454.5 1048.6 452.9 1045.1 452.5L1040.3 449.2L1017.1 430.7Z"/>
<path class="p" d="M1019.8 426.4L1043.2 448C1045.8 449.1 1045.9 450.7 1050.9 451.1C1055.8 451.5 1055.7 449.8 1058 449.2L1066.3 450.5"/>
<path class="p" d="M1075 424.5L1066.3 448"/>
<path class="p" d="M1033.9 421C1033.3 419 1032 419.8 1032.2 414.9C1032.4 409.9 1031.8 412.3 1034.5 406.2C1037.2 400.1 1038.4 399.8 1040.3 396.5"/>
<ellipse class="pf" cx="1057.6" cy="415.8" rx="5.4" ry="5.4"/>
<path class="p" d="M1053.8 412.5L1061.9 419.1M1058 410.6L1057.3 421" stroke-width="1.1"/>
<ellipse class="pf" cx="1050.9" cy="440.3" rx="4.6" ry="4.6"/>
<path class="p" d="M1047.6 437.2L1054.6 443.4M1051.5 435.7L1050.3 444.9M1050.9 440.3L1057.6 435.1" stroke-width="1.1"/>
<ellipse class="pf" cx="1079.2" cy="435.1" rx="4.6" ry="4.6"/>
<path class="p" d="M1075.8 432.2L1082.7 438M1079.6 430.3L1078.9 439.9" stroke-width="1.1"/>
</g>
<g id="sl2">
<path d="M1130 363.2L1109.3 380.5" fill="none" stroke="#000" stroke-width="14" stroke-linecap="round" stroke-linejoin="round"/><path d="M1130 363.2L1109.3 380.5" fill="none" stroke="#fff" stroke-width="11.4" stroke-linecap="round" stroke-linejoin="round"/>
<ellipse class="pf" cx="1130.9" cy="362.4" rx="6.6" ry="7.1"/>
<path class="p" d="M1125.5 357.4C1124.4 359.2 1121.8 358.3 1122.1 362.8C1122.3 367.3 1124.9 368.2 1126.3 370.9"/>
<ellipse class="pf" cx="1131.7" cy="362" rx="5" ry="5.6" stroke-width="1.2"/>
</g>
<g id="bent">
<path d="M1113 409.7L1120.9 405.8C1122.2 406 1121.7 403 1124.8 406.4C1127.8 409.7 1126.2 407.4 1130 415.8C1133.8 424.2 1134.1 426.4 1136.1 431.6L1143.9 490.1C1144.2 491.5 1143.3 492.4 1144.8 494.3C1146.3 496.2 1147.1 495.3 1148.3 495.9L1174.3 495.5" fill="none" stroke="#000" stroke-width="10.8" stroke-linecap="round" stroke-linejoin="round"/><path d="M1113 409.7L1120.9 405.8C1122.2 406 1121.7 403 1124.8 406.4C1127.8 409.7 1126.2 407.4 1130 415.8C1133.8 424.2 1134.1 426.4 1136.1 431.6L1143.9 490.1C1144.2 491.5 1143.3 492.4 1144.8 494.3C1146.3 496.2 1147.1 495.3 1148.3 495.9L1174.3 495.5" fill="none" stroke="#fff" stroke-width="8" stroke-linecap="round" stroke-linejoin="round"/>
<path class="p" d="M1131.3 434.1L1140.6 430.7M1139.8 490.5L1152.5 492.4M1116.7 402.9L1125.1 409.5"/>
<ellipse class="pf" cx="1111.6" cy="409.8" rx="3.9" ry="4.6" transform="rotate(-25 1111.6 409.8)"/>
</g>
<g id="pin">
<path d="M809.8 525.1L841.3 502.8" fill="none" stroke="#000" stroke-width="15.8" stroke-linecap="round" stroke-linejoin="round"/><path d="M809.8 525.1L841.3 502.8" fill="none" stroke="#fff" stroke-width="13.1" stroke-linecap="round" stroke-linejoin="round"/>
<path class="pf" d="M841.3 483.2L854.6 472.9L869.5 481.6L872.9 499.8L858.8 508.1L844.6 499.8Z"/>
<path class="pf" d="M841.3 483.2L835 486.6L838 503.5L853.8 512.8L858.8 508.1M838 503.5L844.6 499.8"/>
<path class="pf" d="M835 486.6L838 503.5L844.6 499.8L841.3 483.2Z"/>
</g>
<g id="bearing">
<ellipse class="pf" cx="889.1" cy="562.1" rx="31.5" ry="34.5" transform="rotate(-34 889.1 562.1)"/>
<ellipse class="pf" cx="896.4" cy="557.1" rx="30.9" ry="34" transform="rotate(-34 896.4 557.1)" stroke-width="2.2"/>
<ellipse class="pf" cx="897.1" cy="556.6" rx="26.6" ry="29.9" transform="rotate(-34 897.1 556.6)"/>
<ellipse class="pf" cx="896.8" cy="557.1" rx="18.6" ry="21.2" transform="rotate(-34 896.8 557.1)"/>
<ellipse class="pf" cx="896.4" cy="557.9" rx="13.6" ry="16.3" transform="rotate(-34 896.4 557.9)"/>
<path class="p" d="M884.8 549.6C887.5 550.7 887.9 549.1 892.8 552.9C897.6 556.8 896.7 555.3 899.4 561.2C902.2 567.2 900.5 567.7 901.1 570.9"/>
<path class="p" d="M889.5 559.6C890 560.6 891.7 561 891.1 562.6C890.6 564.1 888.9 563.7 887.8 564.2"/>
</g>
</svg>
</body></html>
